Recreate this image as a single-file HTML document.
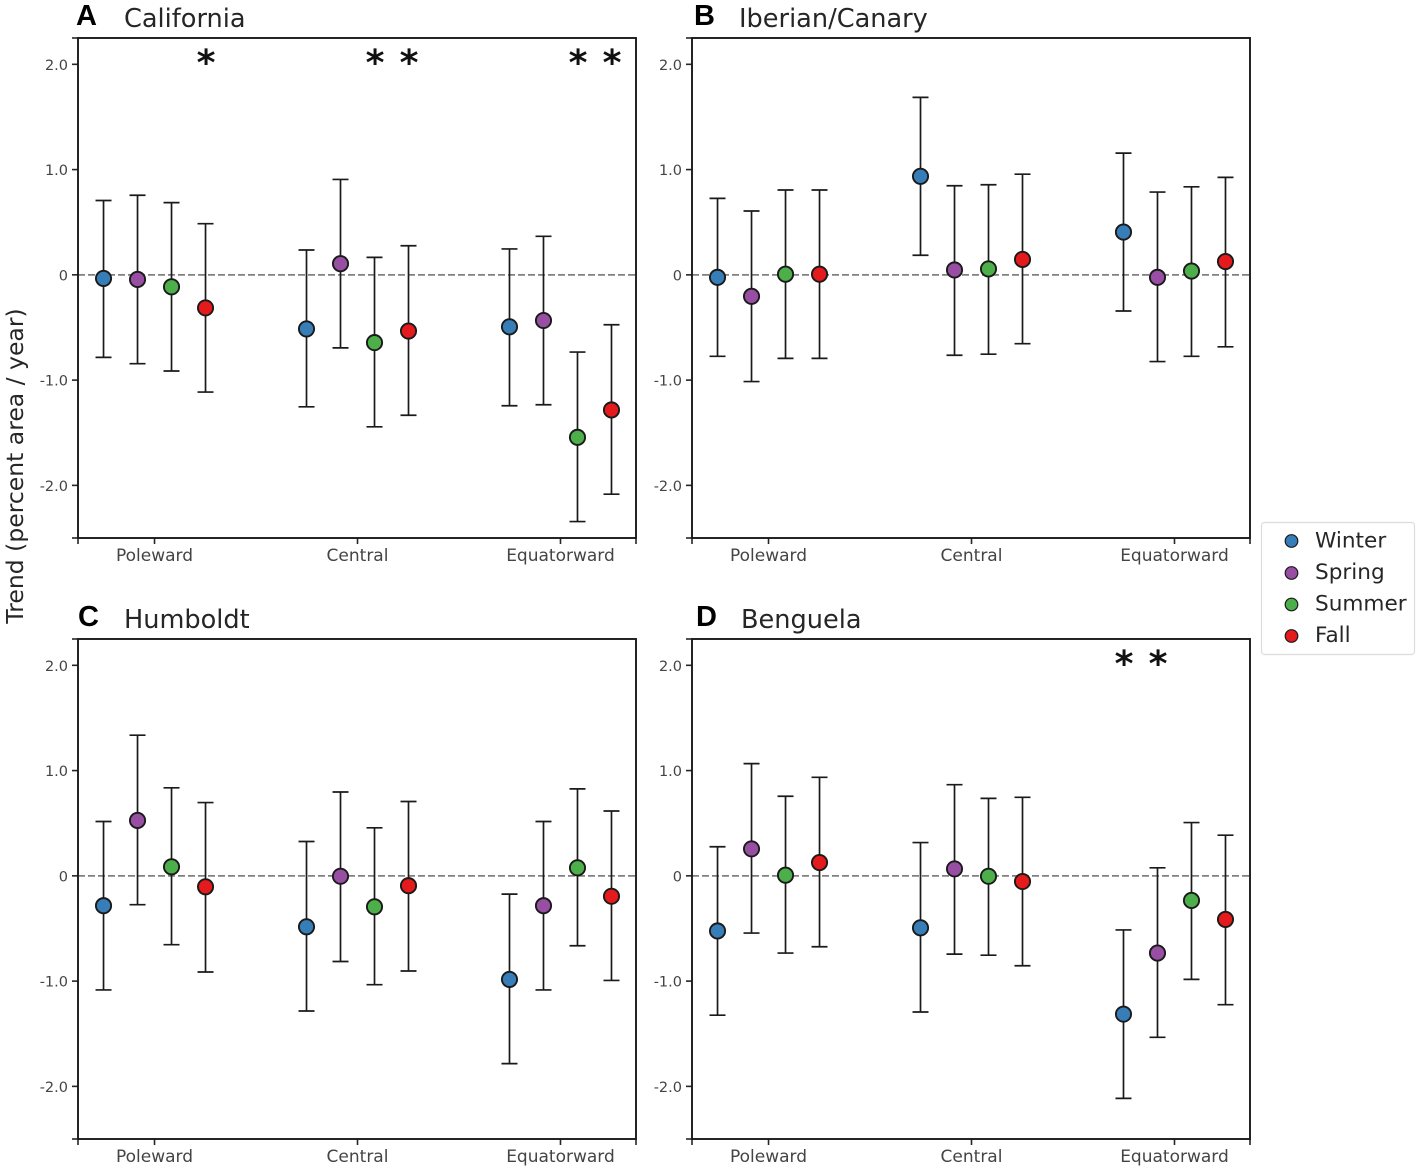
<!DOCTYPE html>
<html>
<head>
<meta charset="utf-8">
<title>Seasonal trends by region</title>
<style>
html,body{margin:0;padding:0;background:#fff;width:1417px;height:1168px;overflow:hidden}
svg{display:block;position:absolute;left:0;top:0;filter:blur(0.35px)}
text{font-family:"DejaVu Sans","Liberation Sans",sans-serif}
</style>
</head>
<body>
<svg id="chart" width="1417" height="1168" viewBox="0 0 1417 1168" xmlns="http://www.w3.org/2000/svg">
  <text transform="translate(23,466) rotate(-90)" text-anchor="middle" font-size="23.5" fill="#262626">Trend (percent area / year)</text>
  <g>
    <rect x="1261.5" y="522.5" width="153" height="132" rx="3" fill="#fff" stroke="#dcdcdc" stroke-width="1.2"/>
    <g>
      <circle cx="1291.5" cy="541" r="6.3" fill="#377eb8" stroke="#1a1a1a" stroke-width="1.2"/>
      <text x="1315" y="547.5" font-size="21.6" fill="#262626">Winter</text>
    </g>
    <g>
      <circle cx="1291.5" cy="573" r="6.3" fill="#984ea3" stroke="#1a1a1a" stroke-width="1.2"/>
      <text x="1315" y="579" font-size="21.6" fill="#262626">Spring</text>
    </g>
    <g>
      <circle cx="1291.5" cy="604.5" r="6.3" fill="#4daf4a" stroke="#1a1a1a" stroke-width="1.2"/>
      <text x="1315" y="610.5" font-size="21.6" fill="#262626">Summer</text>
    </g>
    <g>
      <circle cx="1291.5" cy="636" r="6.3" fill="#e41a1c" stroke="#1a1a1a" stroke-width="1.2"/>
      <text x="1315" y="642" font-size="21.6" fill="#262626">Fall</text>
    </g>
  </g>
</svg>
<script>
// Shared categories and labels
const categories = ["Poleward", "Central", "Equatorward"];
const seasons = ["Winter", "Spring", "Summer", "Fall"];
const seasonColors = ["#377eb8", "#984ea3", "#4daf4a", "#e41a1c"];
const yTickValues = [2, 1, 0, -1, -2];
const yTickLabels = ["2.0", "1.0", "0", "-1.0", "-2.0"];

// Each series: one row per category, one value per season
const californiaMean  = [[-0.03,-0.04,-0.11,-0.31],[-0.51,0.11,-0.64,-0.53],[-0.49,-0.43,-1.54,-1.28]];
const californiaUpper = [[0.71,0.76,0.69,0.49],[0.24,0.91,0.17,0.28],[0.25,0.37,-0.73,-0.47]];
const californiaLower = [[-0.78,-0.84,-0.91,-1.11],[-1.25,-0.69,-1.44,-1.33],[-1.24,-1.23,-2.34,-2.08]];
const californiaSignificant = [[0,0,0,1],[0,0,1,1],[0,0,1,1]];

const iberianMean  = [[-0.02,-0.20,0.01,0.01],[0.94,0.05,0.06,0.15],[0.41,-0.02,0.04,0.13]];
const iberianUpper = [[0.73,0.61,0.81,0.81],[1.69,0.85,0.86,0.96],[1.16,0.79,0.84,0.93]];
const iberianLower = [[-0.77,-1.01,-0.79,-0.79],[0.19,-0.76,-0.75,-0.65],[-0.34,-0.82,-0.77,-0.68]];
const iberianSignificant = [[0,0,0,0],[0,0,0,0],[0,0,0,0]];

const humboldtMean  = [[-0.28,0.53,0.09,-0.10],[-0.48,0.00,-0.29,-0.09],[-0.98,-0.28,0.08,-0.19]];
const humboldtUpper = [[0.52,1.34,0.84,0.70],[0.33,0.80,0.46,0.71],[-0.17,0.52,0.83,0.62]];
const humboldtLower = [[-1.08,-0.27,-0.65,-0.91],[-1.28,-0.81,-1.03,-0.90],[-1.78,-1.08,-0.66,-0.99]];
const humboldtSignificant = [[0,0,0,0],[0,0,0,0],[0,0,0,0]];

const benguelaMean  = [[-0.52,0.26,0.01,0.13],[-0.49,0.07,0.00,-0.05],[-1.31,-0.73,-0.23,-0.41]];
const benguelaUpper = [[0.28,1.07,0.76,0.94],[0.32,0.87,0.74,0.75],[-0.51,0.08,0.51,0.39]];
const benguelaLower = [[-1.32,-0.54,-0.73,-0.67],[-1.29,-0.74,-0.75,-0.85],[-2.11,-1.53,-0.98,-1.22]];
const benguelaSignificant = [[0,0,0,0],[0,0,0,0],[1,1,0,0]];

const svgNS = "http://www.w3.org/2000/svg";
const chart = document.getElementById("chart");

function make(parent, tag, props) {
  const el = document.createElementNS(svgNS, tag);
  for (const k in props) el.setAttribute(k, props[k]);
  parent.appendChild(el);
  return el;
}

function drawPanel(cfg) {
  const W = 558, H = 500;
  const yMin = -2.5, yMax = 2.25;
  const xMin = -0.377, xMax = 2.372;
  const sx = v => cfg.left + (v - xMin) / (xMax - xMin) * W;
  const sy = v => cfg.top + (yMax - v) / (yMax - yMin) * H;
  const markY = v => sy(v) + 0.4;
  const seasonOffset = i => (i - 1.5) * 0.1675;

  const g = make(chart, "g", {});
  
  

  const letter = make(g, "text", {x: cfg.left + cfg.letterDx, y: cfg.top - 13, "font-size": 29, "font-weight": "bold", fill: "#000", style: 'font-family:"Liberation Sans",sans-serif'});
  letter.textContent = cfg.letter;
  
  

  const title = make(g, "text", {x: cfg.left + cfg.titleDx, y: cfg.top - 11, "font-size": 25.6, fill: "#262626"});
  title.textContent = cfg.title;
  
  

  const zero = make(g, "line", {x1: cfg.left, x2: cfg.left + W, y1: sy(0), y2: sy(0), stroke: "#808080", "stroke-width": 1.7, "stroke-dasharray": "7 3"});
  
  

  // y ticks: labelled values plus the axis limits
  yTickValues.forEach((v, i) => {
    const t = make(g, "line", {x1: cfg.left - 6, x2: cfg.left, y1: sy(v), y2: sy(v), stroke: "#262626", "stroke-width": 1.6});
    
    
    const l = make(g, "text", {x: cfg.left - 10, y: sy(v) + 5.5, "text-anchor": "end", "font-size": 14.5, fill: "#444"});
    l.textContent = yTickLabels[i];
    
    
  });
  [yMin, yMax].forEach(v => {
    const t = make(g, "line", {x1: cfg.left - 6, x2: cfg.left, y1: sy(v), y2: sy(v), stroke: "#262626", "stroke-width": 1.6});
    
    
  });

  // x ticks: categories plus the axis limits
  categories.forEach((c, i) => {
    const t = make(g, "line", {x1: sx(i), x2: sx(i), y1: cfg.top + H, y2: cfg.top + H + 6, stroke: "#262626", "stroke-width": 1.6});
    
    
    const l = make(g, "text", {x: sx(i), y: cfg.top + H + 23, "text-anchor": "middle", "font-size": 17, fill: "#444"});
    l.textContent = c;
    
    
  });
  [xMin, xMax].forEach(v => {
    const t = make(g, "line", {x1: sx(v), x2: sx(v), y1: cfg.top + H, y2: cfg.top + H + 6, stroke: "#262626", "stroke-width": 1.6});
    
    
  });

  // Error bars, markers and significance stars
  categories.forEach((c, ci) => {
    seasons.forEach((s, si) => {
      const x = sx(ci + seasonOffset(si));
      const series = make(g, "g", {});
      
      

      const bar = make(series, "line", {x1: x, x2: x, y1: markY(cfg.upper[ci][si]), y2: markY(cfg.lower[ci][si]), stroke: "#1a1a1a", "stroke-width": 1.7});
      
      

      const capTop = make(series, "line", {x1: x - 8, x2: x + 8, y1: markY(cfg.upper[ci][si]), y2: markY(cfg.upper[ci][si]), stroke: "#1a1a1a", "stroke-width": 1.7});
      
      

      const capBottom = make(series, "line", {x1: x - 8, x2: x + 8, y1: markY(cfg.lower[ci][si]), y2: markY(cfg.lower[ci][si]), stroke: "#1a1a1a", "stroke-width": 1.7});
      
      

      const dot = make(series, "circle", {cx: x, cy: markY(cfg.mean[ci][si]), r: 7.6, fill: seasonColors[si], stroke: "#1a1a1a", "stroke-width": 1.9});
      
      

      if (cfg.significant[ci][si]) {
        const star = make(series, "text", {x: x + 0.5, y: sy(1.90), "text-anchor": "middle", "font-size": 36, "font-weight": "bold", fill: "#111"});
        star.textContent = "*";
        
        
      }
    });
  });

  const frame = make(g, "rect", {x: cfg.left, y: cfg.top, width: W, height: H, fill: "none", stroke: "#1a1a1a", "stroke-width": 1.9});
  
  
}

drawPanel({key: "california", letter: "A", title: "California", left: 78, top: 38, letterDx: -2, titleDx: 46,
  mean: californiaMean, upper: californiaUpper, lower: californiaLower, significant: californiaSignificant});
drawPanel({key: "iberian-canary", letter: "B", title: "Iberian/Canary", left: 692, top: 38, letterDx: 2, titleDx: 47,
  mean: iberianMean, upper: iberianUpper, lower: iberianLower, significant: iberianSignificant});
drawPanel({key: "humboldt", letter: "C", title: "Humboldt", left: 78, top: 639, letterDx: 0, titleDx: 46,
  mean: humboldtMean, upper: humboldtUpper, lower: humboldtLower, significant: humboldtSignificant});
drawPanel({key: "benguela", letter: "D", title: "Benguela", left: 692, top: 639, letterDx: 4, titleDx: 49,
  mean: benguelaMean, upper: benguelaUpper, lower: benguelaLower, significant: benguelaSignificant});
</script>
</body>
</html>
